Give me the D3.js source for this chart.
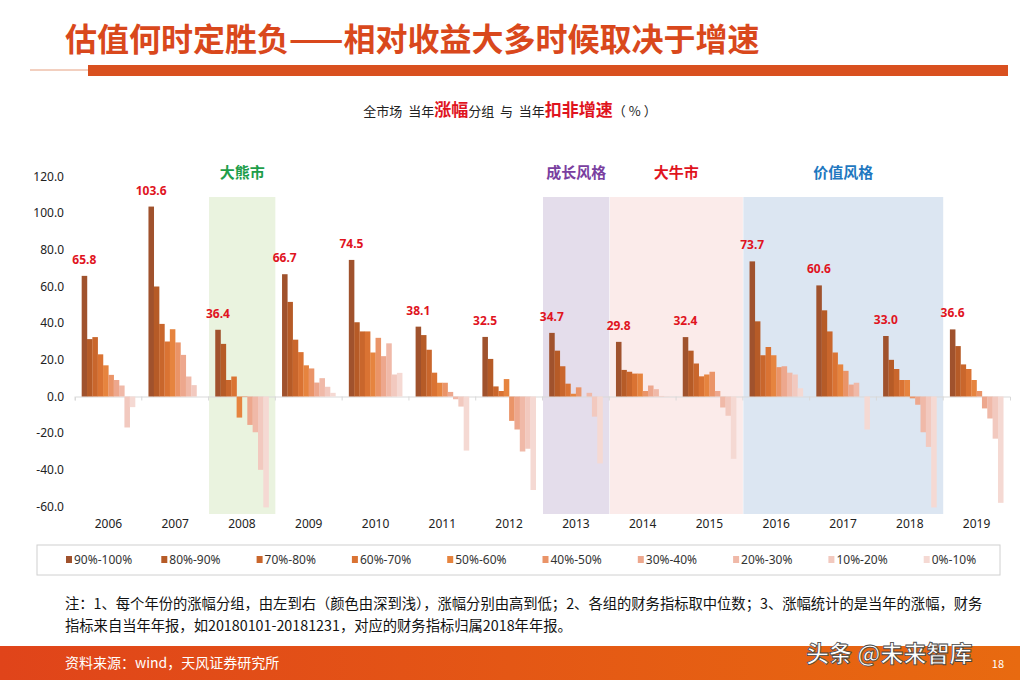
<!DOCTYPE html>
<html><head><meta charset="utf-8">
<script src="https://cdn.jsdelivr.net/npm/d3@7"></script>
<style>body{margin:0;background:#fff;font-family:"Noto Sans CJK SC","Noto Sans",sans-serif} text{white-space:pre}</style>
</head><body>
<svg id="c" width="1020" height="680"></svg>
<script>
const years = ['2006','2007','2008','2009','2010','2011','2012','2013','2014','2015','2016','2017','2018','2019'];
const groups = ['90%-100%','80%-90%','70%-80%','60%-70%','50%-60%','40%-50%','30%-40%','20%-30%','10%-20%','0%-10%'];
const colors = ['#A0522D','#B65B27','#C9662C','#DA7333','#E6843F','#EA9468','#EDA78D','#F0B9A8','#F2C9BF','#F5D9D3'];
const values = [
  [65.8,31.3,32.4,23,17,11.8,9,6,-16.9,-5.8],
  [103.6,60,39.6,30,36.7,29.5,22.7,10.9,6.2,0],
  [36.4,28.7,9,10.9,-11.5,-0.3,-15.5,-19.5,-40,-60.5],
  [66.7,51.6,31,24.2,17,15.3,7.6,10,5.3,2],
  [74.5,40.5,35.5,35.5,24,32,22,29,12,12.9],
  [38.1,33.5,25.5,13,7.5,7.5,2.5,-1.5,-5.5,-29.5],
  [32.5,20.5,5.5,3,9.5,-13.3,-18,-30,-28.5,-51],
  [34.7,25,16.5,7,1.5,5,0,2,-11,-36.5],
  [29.8,14.5,13.5,12.5,12.5,3,6,4,0.3,0.2],
  [32.4,25,18,11,12,13.5,3,-6,-10.5,-34],
  [73.7,41,22.5,27,22.5,16,16.5,13,12,4.5],
  [60.6,47,35.5,24,17.5,14,6.5,7.5,0,-18],
  [33.0,20,15,9,9,-1,-4.5,-19.5,-27.5,-60.5],
  [36.6,27.5,17.5,15,9,3,-6.5,-12,-23,-58]
];
const yTicks = [120,100,80,60,40,20,0,-20,-40,-60];
const regions = [
  {from:'2008',to:'2008',label:'大熊市',fill:'#EAF3DF',color:'#1E9E4A'},
  {from:'2013',to:'2013',label:'成长风格',fill:'#E4DDEB',color:'#7A3FA0'},
  {from:'2014',to:'2015',label:'大牛市',fill:'#FBEBEA',color:'#E0141E'},
  {from:'2016',to:'2018',label:'价值风格',fill:'#DCE6F2',color:'#1F78C0'}
];

const svg = d3.select('#c');
const font = '"Noto Sans CJK SC","Noto Sans",sans-serif';

// header
svg.append('text').attr('x',65).attr('y',51).attr('font-size',32).attr('font-weight','bold')
  .attr('fill','#D9481C').attr('font-family',font).text('估值何时定胜负——相对收益大多时候取决于增速');
svg.append('rect').attr('x',88).attr('y',65).attr('width',920).attr('height',11).attr('fill','#D9501F');
svg.append('line').attr('x1',30).attr('x2',88).attr('y1',70).attr('y2',70).attr('stroke','#E6A080').attr('stroke-width',1);

const sub = svg.append('text').attr('x',510).attr('y',116).attr('text-anchor','middle')
  .attr('font-size',13).attr('font-family',font).attr('fill','#222');
sub.append('tspan').text('全市场  当年');
sub.append('tspan').attr('fill','#E0141E').attr('font-weight','bold').attr('font-size',17).text('涨幅');
sub.append('tspan').text('分组  与  当年');
sub.append('tspan').attr('fill','#E0141E').attr('font-weight','bold').attr('font-size',17).text('扣非增速');
sub.append('tspan').text('（ % ）');

// scales
const x = d3.scaleBand().domain(years).range([75,1010]).paddingInner(0.2).paddingOuter(0.1);
const xi = d3.scaleBand().domain(groups).range([0,x.bandwidth()]);
const y = d3.scaleLinear().domain([-60,120]).range([506.5,176.5]);

// regions
const step = x.step();
regions.forEach(r=>{
  const x0 = x(r.from) - x.paddingOuter()*step + 0.5;
  const x1 = x(r.to) - x.paddingOuter()*step + step;
  svg.append('rect').attr('x',x0).attr('y',197).attr('width',x1-x0).attr('height',317).attr('fill',r.fill);
  svg.append('text').attr('x',(x0+x1)/2).attr('y',178).attr('text-anchor','middle').attr('font-size',15)
    .attr('font-weight','bold').attr('fill',r.color).attr('font-family',font).text(r.label);
});

// y axis labels
svg.append('g').selectAll('text').data(yTicks).join('text')
  .attr('x',64).attr('y',d=>y(d)+4).attr('text-anchor','end').attr('font-size',12)
  .attr('font-family','"Noto Sans",sans-serif').attr('fill','#222').text(d=>d.toFixed(1));

// zero axis
const xAxis = svg.append('g').attr('transform',`translate(0,${y(0)})`)
  .call(d3.axisBottom(x.copy().paddingInner(0).paddingOuter(0)).tickSize(4).tickFormat(''));
xAxis.select('.domain').attr('stroke','#D9D9D9');
xAxis.selectAll('line').attr('stroke','#D9D9D9');
xAxis.selectAll('.tick').attr('transform',d=>`translate(${x(d)-x.paddingOuter()*step},0)`);

// bars
years.forEach((yr,i)=>{
  const g = svg.append('g').attr('transform',`translate(${x(yr)},0)`);
  g.selectAll('rect').data(values[i]).join('rect')
    .attr('x',(d,j)=>xi(groups[j])).attr('width',xi.bandwidth()+0.2)
    .attr('y',d=>y(Math.max(0,d))).attr('height',d=>Math.abs(y(d)-y(0)))
    .attr('fill',(d,j)=>colors[j]);
  svg.append('text').attr('x',x(yr)+xi.bandwidth()/2).attr('y',y(values[i][0])-12)
    .attr('text-anchor','middle').attr('font-size',12).attr('font-weight','bold')
    .attr('fill','#E0141E').attr('font-family','"Noto Sans",sans-serif').text(values[i][0].toFixed(1));
  svg.append('text').attr('x',x(yr)+x.bandwidth()/2).attr('y',528).attr('text-anchor','middle')
    .attr('font-size',12).attr('font-family','"Noto Sans",sans-serif').attr('fill','#222').text(yr);
});

// legend
svg.append('rect').attr('x',37).attr('y',545).attr('width',963).attr('height',30).attr('fill','#fff').attr('stroke','#D0D0D0');
const lg = svg.append('g').selectAll('g').data(groups).join('g')
  .attr('transform',(d,i)=>`translate(${66+i*95.3},560)`);
lg.append('rect').attr('x',0).attr('y',-4).attr('width',6).attr('height',7).attr('fill',(d,i)=>colors[i]);
lg.append('text').attr('x',8).attr('y',4).attr('font-size',12).attr('fill','#333')
  .attr('font-family','"Noto Sans",sans-serif').text(d=>d);

// note
svg.append('text').attr('x',65).attr('y',609).attr('font-size',14.3).attr('fill','#111').attr('font-family',font)
  .text('注：1、每个年份的涨幅分组，由左到右（颜色由深到浅），涨幅分别由高到低；2、各组的财务指标取中位数；3、涨幅统计的是当年的涨幅，财务');
svg.append('text').attr('x',65).attr('y',631).attr('font-size',14.3).attr('fill','#111').attr('font-family',font)
  .text('指标来自当年年报，如20180101-20181231，对应的财务指标归属2018年年报。');

// footer
const grad = svg.append('defs').append('linearGradient').attr('id','fg');
grad.append('stop').attr('offset','0%').attr('stop-color','#E0441A');
grad.append('stop').attr('offset','100%').attr('stop-color','#E86A10');
svg.append('rect').attr('x',0).attr('y',646).attr('width',1020).attr('height',34).attr('fill','url(#fg)');
svg.append('text').attr('x',65).attr('y',668).attr('font-size',14).attr('fill','#fff').attr('font-family',font)
  .text('资料来源：wind，天风证券研究所');
svg.append('text').attr('x',806).attr('y',662).attr('font-size',23).attr('font-weight','bold').attr('fill','#fff').attr('font-family',font)
  .attr('stroke','#444').attr('stroke-width',0.8).text('头条 @未来智库');
svg.append('text').attr('x',1004).attr('y',668).attr('text-anchor','end').attr('font-size',11).attr('fill','#fff')
  .attr('font-family',font).text('18');
</script>
</body></html>
